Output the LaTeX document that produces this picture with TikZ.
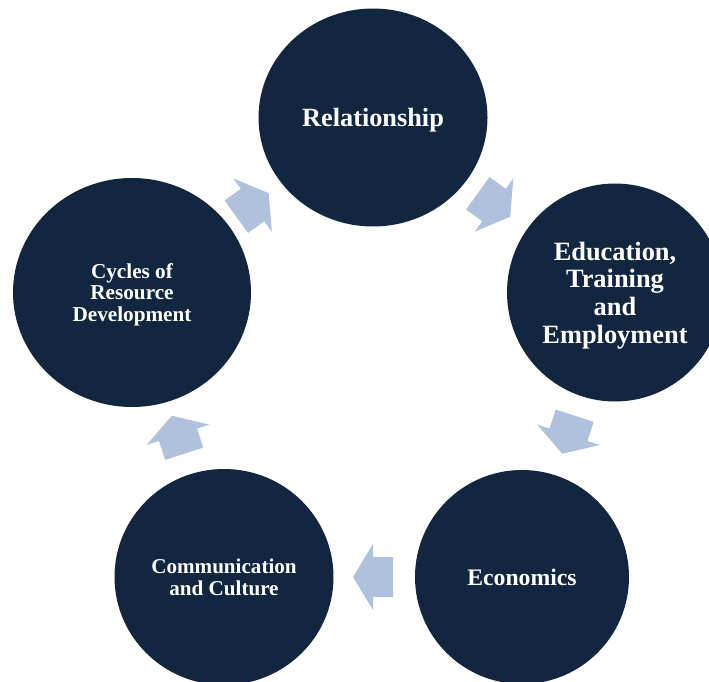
\documentclass[tikz,border=0pt]{standalone}
\usepackage{fontspec}
\setmainfont{Liberation Serif}
\usepackage{tikz}
\usetikzlibrary{shapes.geometric,calc}
\definecolor{navy}{HTML}{12263F}
\definecolor{paleblue}{HTML}{B0C1DD}
\tikzset{
  stage/.style={ellipse,fill=navy,draw=none,text=white,align=center,inner sep=0pt,text depth=0pt},
  cyclearrow/.pic={\fill[paleblue] (20,0) -- (0,33) -- (0,20) -- (-20,20) -- (-20,-20) -- (0,-20) -- (0,-33) -- cycle;}
}
\newcommand\stagefont[2]{\bfseries\fontsize{#1}{#2}\selectfont}
% block arrow half way between two stages, pointing from #1 to #2
\newcommand\linkarrow[2]{%
  \path let \p1=($(#2.center)-(#1.center)$), \n1={atan2(\y1,\x1)} in
    ($(#1.center)!0.5!(#2.center)$) pic[rotate=\n1] {cyclearrow};}

\begin{document}
\begin{tikzpicture}[x=1pt,y=1pt]
  \useasboundingbox (0,0) rectangle (709,681);
  \node[stage,minimum width=229pt,minimum height=218pt,font=\stagefont{26.3}{27.6}] (rel) at (373,563.5) {Relationship};
  \node[stage,minimum width=216pt,minimum height=218pt,font=\stagefont{26.4}{27.6}] (edu) at (615,388.5) {Education,\\Training\\and\\Employment};
  \node[stage,minimum width=214pt,minimum height=214pt,font=\stagefont{23.7}{25}] (eco) at (522,104) {Economics};
  \node[stage,minimum width=219pt,minimum height=216pt,font=\stagefont{21.1}{21.7}] (com) at (224,104) {Communication\\and Culture};
  \node[stage,minimum width=238pt,minimum height=229pt,font=\stagefont{21.2}{21.7}] (cyc) at (132,388.5) {Cycles of\\Resource\\Development};
  \linkarrow{cyc}{rel}
  \linkarrow{rel}{edu}
  \linkarrow{edu}{eco}
  \linkarrow{eco}{com}
  \linkarrow{com}{cyc}
\end{tikzpicture}
\end{document}
